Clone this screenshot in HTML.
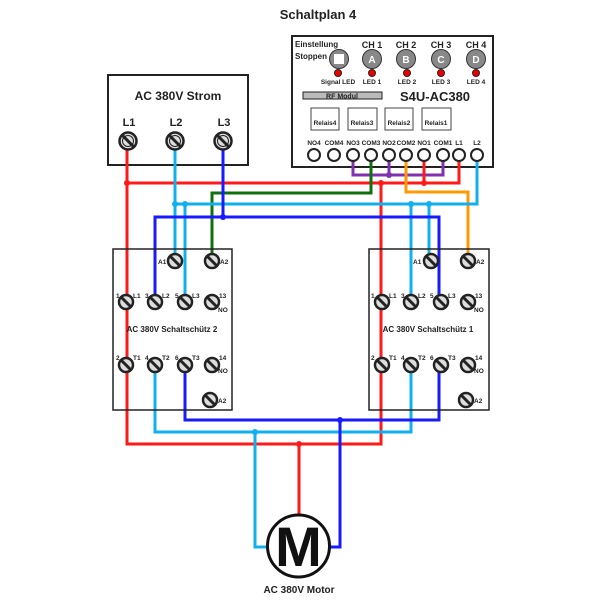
<!DOCTYPE html>
<html><head><meta charset="utf-8"><style>
html,body{margin:0;padding:0;background:#fff}
svg{display:block}
text{font-family:"Liberation Sans",sans-serif;font-weight:bold;fill:#222}
</style></head><body>
<svg width="600" height="600" viewBox="0 0 600 600" xmlns="http://www.w3.org/2000/svg">
<defs>
<g id="t"><circle r="7" fill="#ddd" stroke="#222" stroke-width="2.5"/><line x1="-5" y1="-5" x2="5" y2="5" stroke="#222" stroke-width="3"/></g>
<g id="tb"><circle r="8.5" fill="#ddd" stroke="#222" stroke-width="2.5"/><circle r="5.5" fill="none" stroke="#222" stroke-width="1"/><line x1="-6" y1="-6" x2="6" y2="6" stroke="#222" stroke-width="3"/></g>
<g id="to"><circle r="6" fill="#fff" stroke="#222" stroke-width="2"/><circle r="2.5" fill="#fff"/></g>
</defs>
<text x="318" y="19" font-size="13" text-anchor="middle">Schaltplan 4</text>

<rect x="108" y="75" width="140" height="90" fill="#fff" stroke="#222" stroke-width="2"/>
<text x="178" y="100" font-size="12" text-anchor="middle">AC 380V Strom</text>
<text x="129" y="126" font-size="11" text-anchor="middle">L1</text>
<text x="176" y="126" font-size="11" text-anchor="middle">L2</text>
<text x="224" y="126" font-size="11" text-anchor="middle">L3</text>

<rect x="292" y="36" width="201" height="131" fill="#fff" stroke="#222" stroke-width="2"/>
<text x="295" y="47" font-size="8">Einstellung</text>
<text x="295" y="59" font-size="8">Stoppen</text>
<text x="372" y="48" font-size="9" text-anchor="middle">CH 1</text>
<text x="406" y="48" font-size="9" text-anchor="middle">CH 2</text>
<text x="441" y="48" font-size="9" text-anchor="middle">CH 3</text>
<text x="476" y="48" font-size="9" text-anchor="middle">CH 4</text>
<circle cx="339" cy="59" r="9.5" fill="#888" stroke="#333" stroke-width="1"/>
<rect x="334" y="54" width="10" height="10" fill="#fff"/>
<g fill="#888" stroke="#333" stroke-width="1">
<circle cx="372" cy="59" r="9.5"/><circle cx="406" cy="59" r="9.5"/><circle cx="441" cy="59" r="9.5"/><circle cx="476" cy="59" r="9.5"/></g>
<g font-size="10" text-anchor="middle">
<text x="372" y="63" style="fill:#fff">A</text><text x="406" y="63" style="fill:#fff">B</text><text x="441" y="63" style="fill:#fff">C</text><text x="476" y="63" style="fill:#fff">D</text></g>
<g fill="#e00" stroke="#222" stroke-width="1">
<circle cx="338" cy="73" r="3.5"/><circle cx="372" cy="73" r="3.5"/><circle cx="407" cy="73" r="3.5"/><circle cx="441" cy="73" r="3.5"/><circle cx="476" cy="73" r="3.5"/></g>
<g font-size="6.5" text-anchor="middle">
<text x="338" y="84">Signal LED</text><text x="372" y="84">LED 1</text><text x="407" y="84">LED 2</text><text x="441" y="84">LED 3</text><text x="476" y="84">LED 4</text></g>
<rect x="303" y="92" width="79" height="7" fill="#bbb" stroke="#222" stroke-width="1"/>
<text x="342" y="98.5" font-size="7" text-anchor="middle">RF Modul</text>
<text x="435" y="101" font-size="13" text-anchor="middle">S4U-AC380</text>
<g fill="#fff" stroke="#444" stroke-width="1">
<rect x="311" y="108" width="28" height="22"/><rect x="348" y="108" width="29" height="22"/><rect x="385" y="108" width="28" height="22"/><rect x="422" y="108" width="29" height="22"/></g>
<g font-size="6.5" text-anchor="middle">
<text x="325" y="125">Relais4</text><text x="362" y="125">Relais3</text><text x="399" y="125">Relais2</text><text x="436" y="125">Relais1</text></g>
<g font-size="6.5" text-anchor="middle">
<text x="314" y="145">NO4</text><text x="334" y="145">COM4</text><text x="353" y="145">NO3</text><text x="371" y="145">COM3</text><text x="389" y="145">NO2</text><text x="406" y="145">COM2</text><text x="424" y="145">NO1</text><text x="443" y="145">COM1</text><text x="459" y="145">L1</text><text x="477" y="145">L2</text></g>

<g fill="none" stroke-width="3">
<polyline stroke="#8030b0" points="353,154 353,175 443,175 443,154"/>
<line stroke="#8030b0" x1="389" y1="154" x2="389" y2="175"/>
<polyline stroke="#ff1a1a" points="127,140 127,444 381,444 381,183"/>
<polyline stroke="#ff1a1a" points="127,183 459,183 459,154"/>
<line stroke="#ff1a1a" x1="424" y1="154" x2="424" y2="183"/>
<line stroke="#ff1a1a" x1="299" y1="444" x2="299" y2="515"/>
<polyline stroke="#107010" points="371,154 371,193 212,193 212,261"/>
<polyline stroke="#ff9900" points="406,154 406,192 468,192 468,261"/>
<polyline stroke="#10b0f0" points="477,154 477,204 175,204"/>
<line stroke="#10b0f0" x1="175" y1="140" x2="175" y2="261"/>
<polyline stroke="#10b0f0" points="185,204 185,302"/>
<polyline stroke="#10b0f0" points="411,204 411,302"/>
<polyline stroke="#10b0f0" points="429,204 429,261"/>
<polyline stroke="#10b0f0" points="155,365 155,432 411,432 411,365"/>
<polyline stroke="#10b0f0" points="255,432 255,547 267,547"/>
<line stroke="#1a1aff" x1="223" y1="140" x2="223" y2="217"/>
<polyline stroke="#1a1aff" points="155,302 155,217 439,217 439,302"/>
<polyline stroke="#1a1aff" points="185,365 185,420 439,420 439,365"/>
<polyline stroke="#1a1aff" points="340,420 340,547 330,547"/>
</g>
<g stroke="none">
<circle cx="389" cy="175" r="3" fill="#8030b0"/>
<circle cx="127" cy="183" r="3" fill="#ff1a1a"/><circle cx="381" cy="183" r="3" fill="#ff1a1a"/><circle cx="424" cy="183" r="3" fill="#ff1a1a"/><circle cx="299" cy="444" r="3" fill="#ff1a1a"/>
<circle cx="175" cy="204" r="3" fill="#10b0f0"/><circle cx="185" cy="204" r="3" fill="#10b0f0"/><circle cx="411" cy="204" r="3" fill="#10b0f0"/><circle cx="429" cy="204" r="3" fill="#10b0f0"/><circle cx="255" cy="432" r="3" fill="#10b0f0"/>
<circle cx="223" cy="217" r="3" fill="#1a1aff"/><circle cx="340" cy="420" r="3" fill="#1a1aff"/>
</g>

<use href="#to" x="314" y="155"/><use href="#to" x="334" y="155"/><use href="#to" x="353" y="155"/><use href="#to" x="371" y="155"/><use href="#to" x="389" y="155"/><use href="#to" x="406" y="155"/><use href="#to" x="424" y="155"/><use href="#to" x="443" y="155"/><use href="#to" x="459" y="155"/><use href="#to" x="477" y="155"/>
<use href="#tb" x="128" y="141"/><use href="#tb" x="175" y="141"/><use href="#tb" x="223" y="141"/>

<rect x="113" y="249" width="119" height="161" fill="none" stroke="#222" stroke-width="1.5"/>
<rect x="369" y="249" width="120" height="161" fill="none" stroke="#222" stroke-width="1.5"/>

<g id="c2">
<use href="#t" x="175" y="261"/><use href="#t" x="212" y="261"/>
<use href="#t" x="126" y="302"/><use href="#t" x="155" y="302"/><use href="#t" x="185" y="302"/><use href="#t" x="212" y="302"/>
<use href="#t" x="126" y="365"/><use href="#t" x="155" y="365"/><use href="#t" x="185" y="365"/><use href="#t" x="212" y="365"/>
<use href="#t" x="210" y="400"/>
</g>
<g font-size="6.5">
<text x="158" y="264">A1</text><text x="220" y="264">A2</text>
<text x="116" y="298">1</text><text x="133" y="298">L1</text><text x="145" y="298">3</text><text x="162" y="298">L2</text><text x="175" y="298">5</text><text x="192" y="298">L3</text><text x="219" y="298">13</text><text x="218" y="312">NO</text>
<text x="116" y="360">2</text><text x="133" y="360">T1</text><text x="145" y="360">4</text><text x="162" y="360">T2</text><text x="175" y="360">6</text><text x="192" y="360">T3</text><text x="219" y="360">14</text><text x="218" y="373">NO</text>
<text x="218" y="403">A2</text>
</g>
<text x="172" y="332" font-size="8" text-anchor="middle">AC 380V Schaltschütz 2</text>

<use href="#c2" x="256" y="0"/>
<g font-size="6.5">
<text x="413" y="264">A1</text><text x="476" y="264">A2</text>
<text x="371" y="298">1</text><text x="389" y="298">L1</text><text x="401" y="298">3</text><text x="418" y="298">L2</text><text x="430" y="298">5</text><text x="448" y="298">L3</text><text x="475" y="298">13</text><text x="474" y="312">NO</text>
<text x="371" y="360">2</text><text x="389" y="360">T1</text><text x="401" y="360">4</text><text x="418" y="360">T2</text><text x="430" y="360">6</text><text x="448" y="360">T3</text><text x="475" y="360">14</text><text x="474" y="373">NO</text>
<text x="474" y="403">A2</text>
</g>
<text x="428" y="332" font-size="8" text-anchor="middle">AC 380V Schaltschütz 1</text>

<circle cx="298.5" cy="546" r="31" fill="#fff" stroke="#111" stroke-width="3"/>
<text x="298.5" y="566" font-size="56" text-anchor="middle" style="fill:#111">M</text>
<text x="299" y="593" font-size="10" text-anchor="middle">AC 380V Motor</text>
</svg>
</body></html>
